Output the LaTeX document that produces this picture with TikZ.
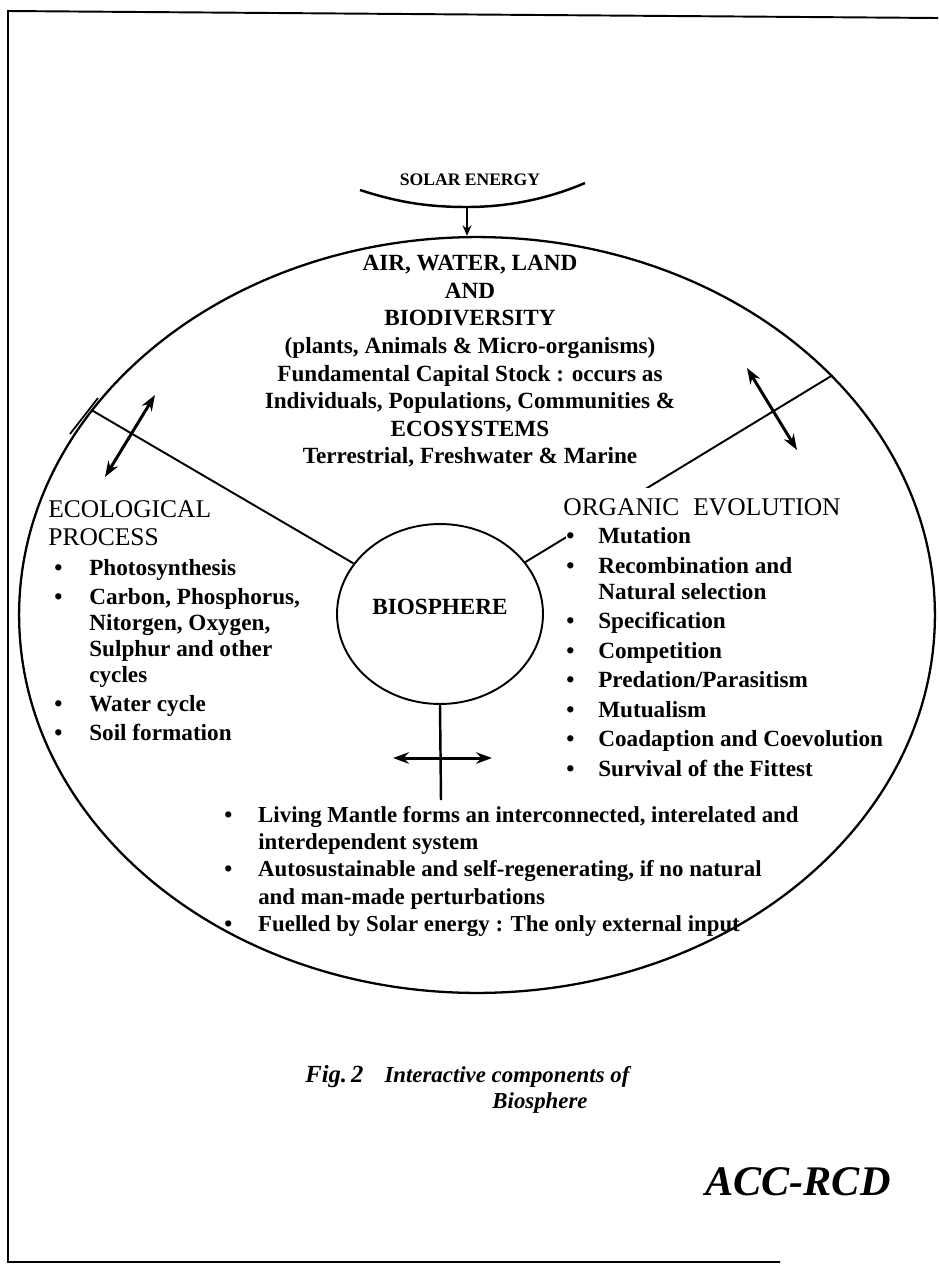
\documentclass[tikz,border=0pt]{standalone}
\usepackage{fontspec}
\setmainfont{Liberation Serif}
\usetikzlibrary{arrows.meta,shapes.geometric,calc}
\tikzset{
  rim/.style={line width=1.3pt},
  divider/.style={line width=1.1pt},
  twoway/.style={{Stealth[length=9pt,width=6.5pt]}-{Stealth[length=9pt,width=6.5pt]},line width=1.7pt},
  bodytext/.style={font=\bfseries\fontsize{13.2}{15.7}\selectfont,inner sep=0,align=center},
  headtext/.style={font=\fontsize{14.5}{15.9}\selectfont,inner sep=0,align=left},
  listtext/.style={font=\bfseries\fontsize{13.2}{14.8}\selectfont,inner sep=0,anchor=north west},
  captext/.style={font=\bfseries\itshape\fontsize{13}{15}\selectfont,inner sep=0},
}
\begin{document}
\begin{tikzpicture}[x=0.02cm,y=-0.02cm]
\useasboundingbox(0,0)rectangle(938,1268);
%frame
\draw[line width=1.1pt](938,18)--(8,11)--(8,1262)--(780,1262);
%solar energy
\node[font=\bfseries\fontsize{10}{12}\selectfont,inner sep=0](solar)at(470,180){SOLAR ENERGY};
\coordinate(sunfoot)at(467,207);
\draw[line width=1.4pt](360,190)..controls(400,203)and(430,207)..(sunfoot)
  ..controls(510,207)and(550,198)..(585,183);
%outer ellipse and biosphere
\node[draw,rim,ellipse,inner sep=0,minimum width=18.32cm,minimum height=15.12cm](world)at(477,615){};
\node[draw,divider,ellipse,inner sep=0,minimum width=4.12cm,minimum height=3.6cm,
      font=\bfseries\fontsize{13.2}{15.7}\selectfont](bio)at(440,614){\raisebox{8pt}{BIOSPHERE}};
\draw[line width=1.4pt,-{Stealth[length=6pt,width=5pt]}](sunfoot)--(sunfoot|-world.north);
%dividers
\draw[divider](world.152.4)--(bio);
\draw[line width=1pt](70,434)--(98,398);
\draw[divider](world.34.4)--(bio);
\coordinate(stemfoot)at(441,800);
\draw[line width=1.4pt](bio.south)--(stemfoot);
%interaction arrows
\coordinate(ecoA)at(155,395);
\coordinate(ecoB)at(105,477);
\coordinate(orgA)at(747,368);
\coordinate(orgB)at(797,450);
\coordinate(mantleW)at(393,758);
\coordinate(mantleE)at(492,758);
\draw[twoway](ecoA)--(ecoB);
\draw[twoway](orgA)--(orgB);
\draw[twoway](mantleW)--(mantleE);
%capital stock
\node[bodytext,anchor=north](stock)at(470,255){AIR, WATER, LAND\\AND\\BIODIVERSITY\\
(plants, Animals \& Micro-organisms)\\Fundamental Capital Stock : occurs as\\
Individuals, Populations, Communities \&\\ECOSYSTEMS\\Terrestrial, Freshwater \& Marine};
%ecological process
\node[headtext,anchor=north west](ecohead)at(48,500){ECOLOGICAL\\PROCESS};
\node[listtext](ecolist)at(54,557){\begin{tabular}{@{}p{19.9pt}@{}l@{}}
\textbullet & Photosynthesis\\[1.7pt]
\textbullet & Carbon, Phosphorus,\\
 & Nitorgen, Oxygen,\\
 & Sulphur and other\\
 & cycles\\[1.7pt]
\textbullet & Water cycle\\[1.7pt]
\textbullet & Soil formation
\end{tabular}};
%organic evolution
\node[headtext,fill=white,inner ysep=6pt,anchor=base west](orghead)at(563,515){ORGANIC\hspace{0.55em}EVOLUTION};
\node[listtext,fill=white](orglist)at(566,525){\begin{tabular}{@{}p{18.2pt}@{}l@{}}
\textbullet & Mutation\\[2pt]
\textbullet & Recombination and\\
 & Natural selection\\[2pt]
\textbullet & Specification\\[2pt]
\textbullet & Competition\\[2pt]
\textbullet & Predation/Parasitism\\[2pt]
\textbullet & Mutualism\\[2pt]
\textbullet & Coadaption and Coevolution\\[2pt]
\textbullet & Survival of the Fittest
\end{tabular}};
%living mantle
\node[listtext,font=\bfseries\fontsize{13}{15.5}\selectfont](mantle)at(224,803){\begin{tabular}{@{}p{19.3pt}@{}l@{}}
\textbullet & Living Mantle forms an interconnected, interelated and\\
 & interdependent system\\
\textbullet & Autosustainable and self-regenerating, if no natural\\
 & and man-made perturbations\\
\textbullet & Fuelled by Solar energy : The only external input
\end{tabular}};
%caption
\node[captext,anchor=base west](figcap)at(305,1082){{\fontsize{14}{15}\selectfont Fig.\,2}\hspace{12pt}Interactive components of};
\node[captext,anchor=base](figcaptwo)at(540,1108){Biosphere};
\node[captext,font=\bfseries\itshape\fontsize{24}{26}\selectfont,anchor=base west](acc)at(705,1195){ACC-RCD};
\end{tikzpicture}
\end{document}
